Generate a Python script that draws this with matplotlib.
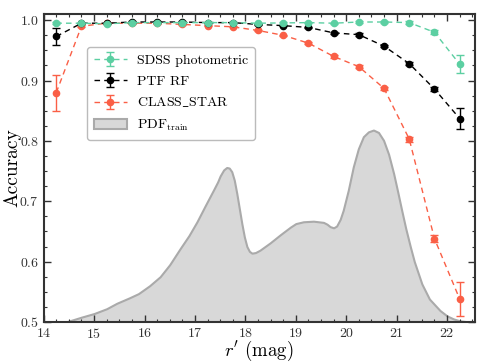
import numpy as np
import matplotlib
matplotlib.use("Agg")
import matplotlib.pyplot as plt
from matplotlib.ticker import MultipleLocator

plt.rcParams['font.family'] = 'serif'
plt.rcParams['font.serif'] = ['cmr10']
plt.rcParams['mathtext.fontset'] = 'cm'
plt.rcParams['axes.formatter.use_mathtext'] = True

# magnitude bins
mag = [14.25, 14.75, 15.25, 15.75, 16.25, 16.75, 17.25, 17.75, 18.25,
       18.75, 19.25, 19.75, 20.25, 20.75, 21.25, 21.75, 22.25]

sdss_acc = [0.995, 0.995, 0.994, 0.996, 0.996, 0.996, 0.996, 0.996, 0.995,
            0.9955, 0.996, 0.995, 0.997, 0.997, 0.996, 0.980, 0.927]
sdss_err = [0.002, 0.001, 0.001, 0.001, 0.001, 0.001, 0.001, 0.001, 0.001,
            0.001, 0.001, 0.001, 0.001, 0.001, 0.002, 0.003, 0.015]

ptf_acc = [0.973, 0.995, 0.995, 0.997, 0.997, 0.997, 0.996, 0.996, 0.993,
           0.991, 0.988, 0.979, 0.976, 0.957, 0.928, 0.886, 0.837]
ptf_err = [0.014, 0.001, 0.001, 0.001, 0.001, 0.001, 0.001, 0.001, 0.001,
           0.001, 0.001, 0.002, 0.002, 0.002, 0.003, 0.004, 0.018]

cs_acc = [0.880, 0.990, 0.995, 0.995, 0.995, 0.993, 0.991, 0.989, 0.983,
          0.975, 0.962, 0.940, 0.923, 0.887, 0.803, 0.638, 0.538]
cs_err = [0.030, 0.002, 0.001, 0.001, 0.001, 0.001, 0.001, 0.001, 0.001,
          0.001, 0.002, 0.002, 0.002, 0.003, 0.004, 0.006, 0.028]

# training-set PDF outline (in accuracy-axis units)
pdf_mag = [14.25, 14.46, 14.75, 15.0, 15.25, 15.45, 15.7, 15.88, 16.1, 16.31,
           16.5, 16.71, 16.88, 17.04, 17.2, 17.37, 17.45, 17.5, 17.57, 17.63,
           17.68, 17.73, 17.78, 17.83, 17.88, 17.93, 17.98, 18.03, 18.08, 18.13,
           18.2, 18.29, 18.49, 18.7, 18.89, 19.0, 19.15, 19.35, 19.55, 19.62,
           19.68, 19.75, 19.81, 19.88, 19.94, 20.04, 20.14, 20.24, 20.34, 20.44,
           20.54, 20.64, 20.74, 20.84, 20.94, 21.02, 21.10, 21.18, 21.27, 21.35,
           21.5, 21.65, 21.86, 22.0, 22.13, 22.25, 22.39, 22.5]
pdf_val = [0.5, 0.5005, 0.508, 0.514, 0.522, 0.531, 0.540, 0.547, 0.560, 0.575,
           0.595, 0.622, 0.643, 0.666, 0.692, 0.719, 0.732, 0.742, 0.752, 0.756,
           0.755, 0.749, 0.735, 0.713, 0.688, 0.663, 0.641, 0.625, 0.617, 0.614,
           0.615, 0.619, 0.631, 0.645, 0.657, 0.663, 0.666, 0.667, 0.665, 0.662,
           0.658, 0.656, 0.659, 0.670, 0.685, 0.718, 0.757, 0.787, 0.807, 0.815,
           0.818, 0.814, 0.801, 0.778, 0.746, 0.716, 0.685, 0.655, 0.625, 0.600,
           0.563, 0.538, 0.519, 0.510, 0.505, 0.502, 0.5005, 0.5]

green = '#5ccfa2'
red = '#fa5f46'

fig = plt.figure(figsize=(4.85, 3.63), dpi=100)
ax = fig.add_axes([0.090, 0.113, 0.889, 0.848])

ax.fill_between(pdf_mag, 0.5, pdf_val, facecolor='#d8d8d8', edgecolor='#aaaaaa',
                linewidth=1.5, label=r'PDF$_{\rm train}$', zorder=1)

ax.errorbar(mag, cs_acc, yerr=cs_err, fmt='o', ls=(0, (4, 3)), color=red, ms=4.5,
            lw=1, capsize=3, elinewidth=1, label=r'CLASS$\_$STAR', zorder=3)
ax.errorbar(mag, ptf_acc, yerr=ptf_err, fmt='o', ls=(0, (4, 3)), color='k', ms=4.5,
            lw=1, capsize=3, elinewidth=1, label='PTF RF', zorder=4)
ax.errorbar(mag, sdss_acc, yerr=sdss_err, fmt='o', ls=(0, (4, 3)), color=green,
            ms=4.5, lw=1, capsize=3, elinewidth=1, label='SDSS photometric', zorder=5)

ax.set_xlim(14, 22.55)
ax.set_ylim(0.5, 1.01)
ax.xaxis.set_major_locator(MultipleLocator(1))
ax.xaxis.set_minor_locator(MultipleLocator(0.25))
ax.yaxis.set_major_locator(MultipleLocator(0.1))
ax.yaxis.set_minor_locator(MultipleLocator(0.025))
ax.tick_params(which='both', direction='in', top=True, right=True, labelsize=10,
               colors='#333333', labelcolor='#333333')
ax.tick_params(which='major', length=5, width=1)
ax.tick_params(which='minor', length=2.5, width=0.8)
for s in ax.spines.values():
    s.set_linewidth(1.5)
    s.set_color('#333333')

ax.set_xlabel(r"$r'$ (mag)", fontsize=13.5)
ax.set_ylabel('Accuracy', fontsize=14)
ax.xaxis.set_label_coords(0.5, -0.056)
ax.yaxis.set_label_coords(-0.052, 0.5)

handles, labels = ax.get_legend_handles_labels()
order = [3, 2, 1, 0]
ax.legend([handles[i] for i in order], [labels[i] for i in order],
          loc='upper left', bbox_to_anchor=(0.100, 0.893), borderaxespad=0,
          fontsize=10, frameon=True, fancybox=True, edgecolor='#aaaaaa',
          handlelength=2.4, handletextpad=0.7, borderpad=0.5, labelspacing=0.58)

fig.savefig('out.png', dpi=100)
